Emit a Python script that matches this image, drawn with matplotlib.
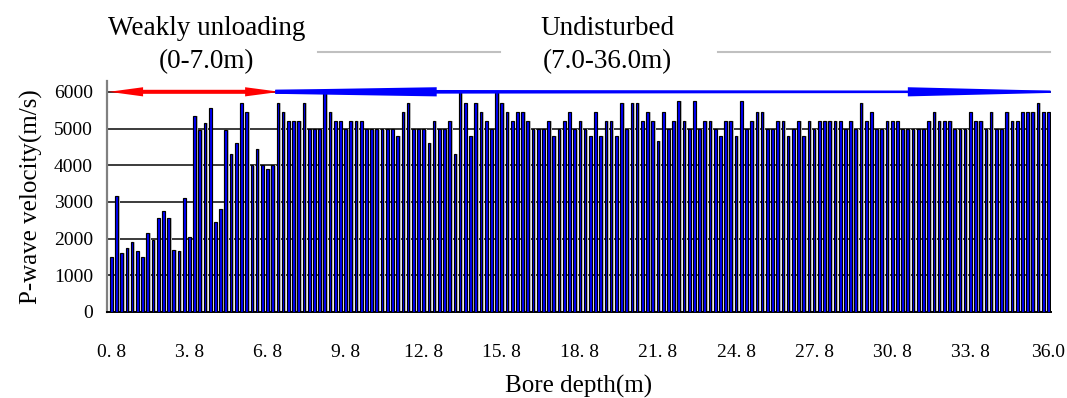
import numpy as np
import matplotlib
matplotlib.use("Agg")
import matplotlib.pyplot as plt

plt.rcParams['font.family'] = ['Liberation Serif', 'DejaVu Serif']

# P-wave velocity per 0.2 m measuring point along the bore (m/s)
velocity = [
    1500, 3150, 1600, 1750, 1900, 1650, 1500, 2150, 1950, 2550,
    2750, 2550, 1700, 1650, 3100, 2050, 5350, 4950, 5150, 5550,
    2450, 2800, 4950, 4300, 4600, 5700, 5450, 4000, 4450, 4000,
    3900, 4000, 5700, 5450, 5200, 5200, 5200, 5700, 5000, 5000,
    5000, 6000, 5450, 5200, 5200, 5000, 5200, 5200, 5200, 5000,
    5000, 5000, 5000, 5000, 5000, 4800, 5450, 5700, 5000, 5000,
    5000, 4600, 5200, 5000, 5000, 5200, 4300, 6000, 5700, 4800,
    5700, 5450, 5200, 5000, 6000, 5700, 5450, 5200, 5450, 5450,
    5200, 5000, 5000, 5000, 5200, 4800, 5000, 5200, 5450, 5000,
    5200, 5000, 4800, 5450, 4800, 5200, 5200, 4800, 5700, 5000,
    5700, 5700, 5200, 5450, 5200, 4650, 5450, 5000, 5200, 5750,
    5200, 5000, 5750, 5000, 5200, 5200, 5000, 4800, 5200, 5200,
    4800, 5750, 5000, 5200, 5450, 5450, 5000, 5000, 5200, 5200,
    4800, 5000, 5200, 4800, 5200, 5000, 5200, 5200, 5200, 5200,
    5200, 5000, 5200, 5000, 5700, 5200, 5450, 5000, 5000, 5200,
    5200, 5200, 5000, 5000, 5000, 5000, 5000, 5200, 5450, 5200,
    5200, 5200, 5000, 5000, 5000, 5450, 5200, 5200, 5000, 5450,
    5000, 5000, 5450, 5200, 5200, 5450, 5450, 5450, 5700, 5450,
    5450,
]
tick_labels = ["0. 8", "3. 8", "6. 8", "9. 8", "12. 8", "15. 8", "18. 8",
               "21. 8", "24. 8", "27. 8", "30. 8", "33. 8", "36.0"]
y_ticks = [0, 1000, 2000, 3000, 4000, 5000, 6000]
zones = ["Weakly unloading\n(0-7.0m)", "Undisturbed\n(7.0-36.0m)"]

idx = np.arange(len(velocity))

fig = plt.figure(figsize=(10.67, 3.98), dpi=100)
ax = fig.add_axes([107 / 1067, 1 - 312 / 398, 944 / 1067, 231.2 / 398])

# grey drop shadow behind each column, then the columns
ax.bar(idx + 0.33, velocity, width=0.5, color='#c4c4c4', linewidth=0, zorder=2)
ax.bar(idx, velocity, width=0.52, color='#0000ff', edgecolor='black',
       linewidth=0.85, zorder=3)

for v in y_ticks[1:]:
    ax.axhline(v, color='#1a1a1a', lw=1.2, zorder=1)

ax.set_xlim(-0.83, 180.5)
ax.set_ylim(0, 6300)
ax.set_yticks(y_ticks)
ax.set_yticklabels([str(v) for v in y_ticks], fontsize=14)
ax.tick_params(axis='y', length=0, pad=10)
ax.set_xticks(np.arange(0, 15 * len(tick_labels), 15))
ax.set_xticklabels(tick_labels, fontsize=14)
ax.tick_params(axis='x', direction='in', length=5, width=1.2, color='#404040', pad=23)

for s in ['top', 'right']:
    ax.spines[s].set_visible(False)
ax.spines['left'].set_color('#808080')
ax.spines['left'].set_linewidth(1.6)
ax.spines['bottom'].set_color('black')
ax.spines['bottom'].set_linewidth(1.4)

ax.set_ylabel("P-wave velocity(m/s)", fontsize=18, labelpad=8)
ax.set_xlabel("Bore depth(m)", fontsize=18, labelpad=10)

# zone arrows along the 6000 m/s line
yc = 6000
t, h = 55, 125
red = [(-0.45, yc), (6.1, yc + h), (6.1, yc + t), (25.7, yc + t), (25.7, yc + h),
       (32.4, yc), (25.7, yc - h), (25.7, yc - t), (6.1, yc - t), (6.1, yc - h)]
ax.fill(*zip(*red), color='#ff0000', lw=0, zorder=5, clip_on=False)
ax.fill([31.5, 180.4, 180.4, 31.5], [yc + t, yc + 30, yc - 30, yc - t],
        color='#0000ff', lw=0, zorder=5, clip_on=False)
ax.fill([31.5, 62.5, 62.5, 31.5], [yc + t, yc + h, yc - h, yc - t],
        color='#0000ff', lw=0, zorder=5, clip_on=False)
ax.fill([153, 180.4, 180.4, 153], [yc + h, yc + 30, yc - 30, yc - h],
        color='#0000ff', lw=0, zorder=5, clip_on=False)

# zone captions and separator lines above the plot
fig.text(207 / 1067, 1 - 45 / 398, zones[0], ha='center', va='center',
         fontsize=19.5, linespacing=1.45)
fig.text(607 / 1067, 1 - 45 / 398, zones[1], ha='center', va='center',
         fontsize=19.5, linespacing=1.45)
for x0, x1 in [(318, 500), (718, 1050)]:
    fig.add_artist(plt.Line2D([x0 / 1067, x1 / 1067], [1 - 52 / 398] * 2,
                              color='#c0c0c0', lw=1.5))

fig.savefig("out.png", dpi=100)
